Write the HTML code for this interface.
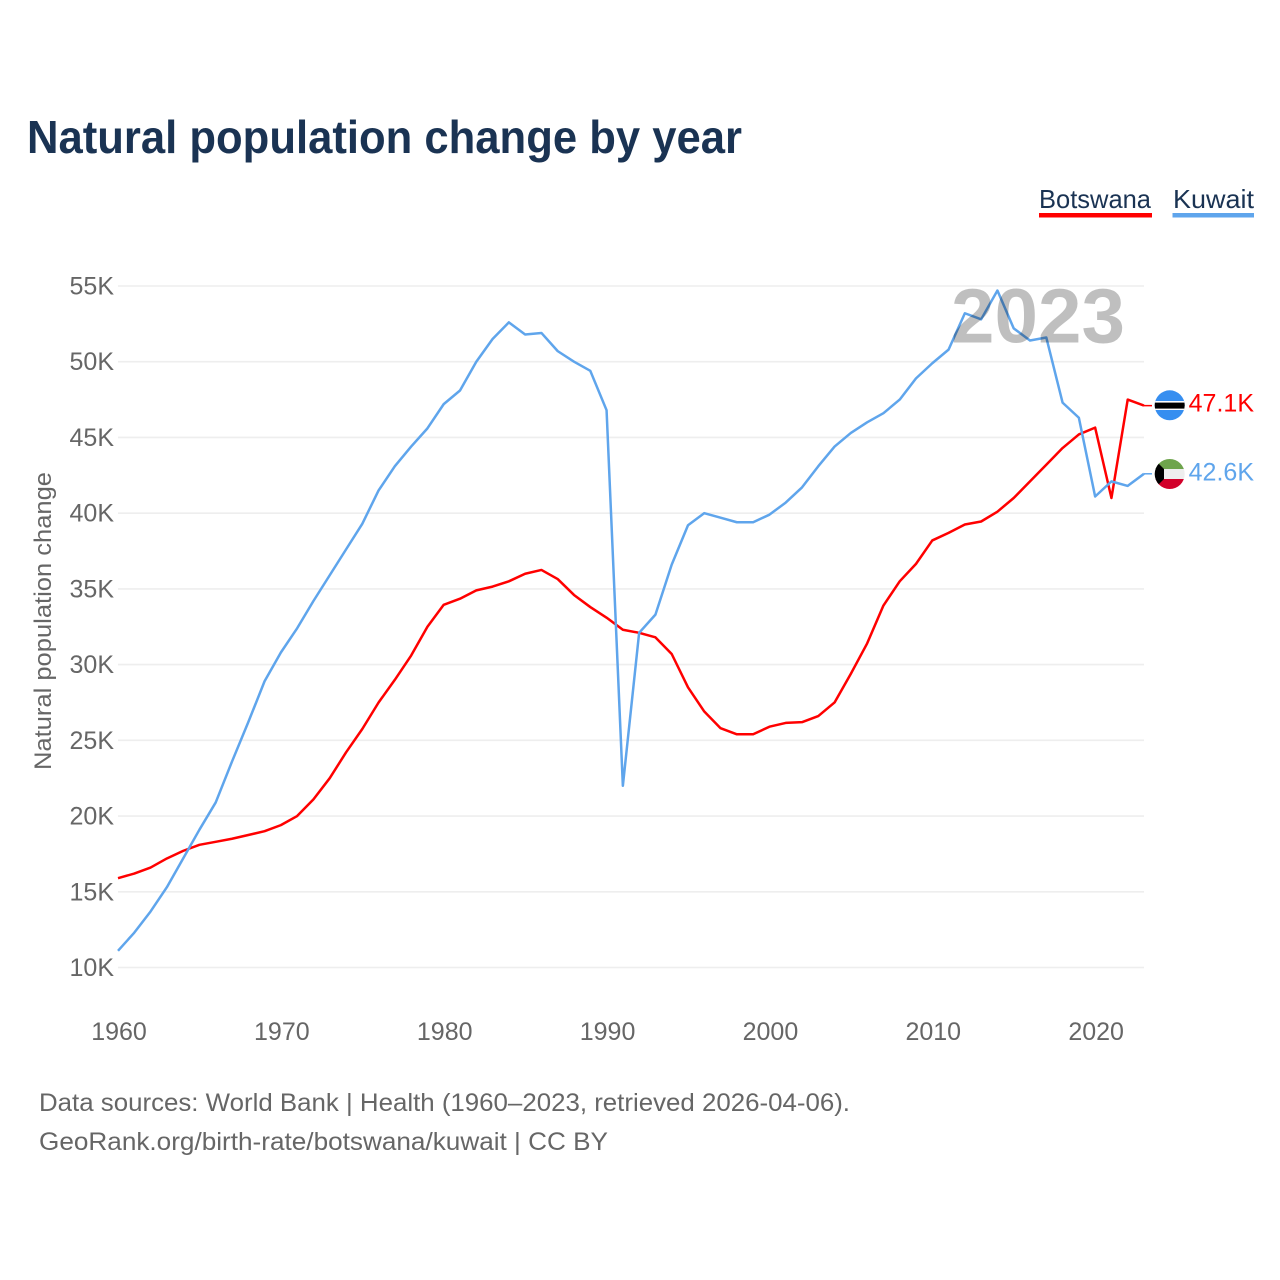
<!DOCTYPE html>
<html lang="en">
<head>
<meta charset="utf-8">
<title>Natural population change by year</title>
<style>
html,body{margin:0;padding:0;background:#fff;}
svg{display:block;font-family:"Liberation Sans",sans-serif;}
</style>
</head>
<body>
<svg id="chart" xmlns="http://www.w3.org/2000/svg" width="1280" height="1280" viewBox="0 0 1280 1280">
  <rect x="0" y="0" width="1280" height="1280" fill="#fff"/>
  <text x="27" y="153" font-size="46" font-weight="700" fill="#1a3353" textLength="715" lengthAdjust="spacingAndGlyphs">Natural population change by year</text>

  <g>
    <text x="1039" y="208" font-size="26" fill="#1a3353" textLength="112" lengthAdjust="spacingAndGlyphs">Botswana</text>
    <rect x="1039" y="213" width="113" height="4.5" fill="#ff0000"/>
  </g>
  <g>
    <text x="1173" y="208" font-size="26" fill="#1a3353" textLength="81" lengthAdjust="spacingAndGlyphs">Kuwait</text>
    <rect x="1172.5" y="213" width="81.5" height="4.5" fill="#5fa5ec"/>
  </g>

  <g id="grid"></g>
  <g id="yticks"></g>
  <g id="xticks"></g>
  <text transform="translate(51,621) rotate(-90)" text-anchor="middle" font-size="24" fill="#666" textLength="298" lengthAdjust="spacingAndGlyphs">Natural population change</text>

  <g id="lines"></g>

  <text id="year-watermark" x="951" y="342.5" font-size="77" font-weight="700" fill="#000" fill-opacity="0.25" textLength="174" lengthAdjust="spacingAndGlyphs">2023</text>

  <g id="end-markers"></g>

  <defs>
    <clipPath id="flag-clip-bw"><circle cx="1169.7" cy="405.3" r="15"/></clipPath>
    <clipPath id="flag-clip-kw"><circle cx="1169.7" cy="474" r="15"/></clipPath>
  </defs>
  <g clip-path="url(#flag-clip-bw)">
    <rect x="1154" y="390" width="31" height="31" fill="#368ef0"/>
    <rect x="1154" y="401" width="31" height="9" fill="#fff"/>
    <rect x="1154" y="402.6" width="31" height="6" fill="#000"/>
  </g>
  <g clip-path="url(#flag-clip-kw)">
    <rect x="1154" y="459" width="31" height="10" fill="#6ea44c"/>
    <rect x="1154" y="469" width="31" height="10" fill="#eee"/>
    <rect x="1154" y="479" width="31" height="10" fill="#d2002a"/>
    <polygon points="1154,459 1164,469 1164,479 1154,489" fill="#000"/>
  </g>
  <text id="label-bw" x="1254" y="411.5" text-anchor="end" font-size="25" fill="#ff0000"></text>
  <text id="label-kw" x="1254" y="480.5" text-anchor="end" font-size="25" fill="#5fa5ec"></text>

  <g>
    <text x="39" y="1111" font-size="25" fill="#666" textLength="811" lengthAdjust="spacingAndGlyphs">Data sources: World Bank | Health (1960–2023, retrieved 2026-04-06).</text>
    <text x="39" y="1150" font-size="25" fill="#666" textLength="569" lengthAdjust="spacingAndGlyphs">GeoRank.org/birth-rate/botswana/kuwait | CC BY</text>
  </g>
</svg>
<script>
const startYear = 1960;
const yTicks = [10, 15, 20, 25, 30, 35, 40, 45, 50, 55];
const xTicks = [1960, 1970, 1980, 1990, 2000, 2010, 2020];
const botswana = [15.9,16.2,16.6,17.2,17.7,18.1,18.3,18.5,18.75,19.0,19.4,20.0,21.1,22.5,24.2,25.75,27.5,29.0,30.6,32.5,33.95,34.35,34.9,35.15,35.5,36.0,36.25,35.65,34.6,33.8,33.1,32.3,32.1,31.8,30.7,28.5,26.9,25.8,25.4,25.4,25.9,26.15,26.2,26.6,27.5,29.4,31.4,33.9,35.5,36.65,38.2,38.7,39.25,39.45,40.1,41.0,42.1,43.2,44.3,45.2,45.65,41.0,47.5,47.1];
const kuwait = [11.1,12.3,13.7,15.3,17.2,19.1,20.9,23.6,26.2,28.9,30.8,32.4,34.2,35.9,37.6,39.3,41.5,43.1,44.4,45.6,47.2,48.1,50.0,51.5,52.6,51.8,51.9,50.7,50.0,49.4,46.8,22.0,32.1,33.3,36.6,39.2,40.0,39.7,39.4,39.4,39.9,40.7,41.7,43.1,44.4,45.3,46.0,46.6,47.5,48.9,49.9,50.8,53.2,52.8,54.7,52.2,51.4,51.6,47.3,46.3,41.1,42.1,41.8,42.6];

const NS = 'http://www.w3.org/2000/svg';
const xScale = function (year) { return 118 + (year - 1960) * (1144 - 118) / 63; };
const yScale = function (value) { return 967.5 - (value - 10) * (967.5 - 286) / 45; };

function make(tag, parent, attrs, text) {
  const el = document.createElementNS(NS, tag);
  Object.keys(attrs).forEach(function (k) { el.setAttribute(k, attrs[k]); });
  if (text !== undefined) el.textContent = text;
  parent.appendChild(el);
  return el;
}

const gridGroup = document.getElementById('grid');
const yGroup = document.getElementById('yticks');
yTicks.forEach(function (t) {
  const y = yScale(t);
  const line = make('line', gridGroup, { x1: 118, x2: 1144, y1: y, y2: y, stroke: '#eeeeee', 'stroke-width': 1.6 });
  
  
  const label = make('text', yGroup, { x: 114, y: y + 8.5, 'text-anchor': 'end', 'font-size': 25, fill: '#666' }, t + 'K');
  
  
});

const xGroup = document.getElementById('xticks');
xTicks.forEach(function (t) {
  const label = make('text', xGroup, { x: xScale(t) + 1, y: 1040, 'text-anchor': 'middle', 'font-size': 25, fill: '#666' }, String(t));
  
  
});

function pathFor(values) {
  return values.map(function (v, i) {
    return (i ? 'L' : 'M') + xScale(startYear + i).toFixed(2) + ' ' + yScale(v).toFixed(2);
  }).join(' ');
}

const lineGroup = document.getElementById('lines');
const botswanaLine = make('path', lineGroup, { d: pathFor(botswana), fill: 'none', stroke: '#ff0000', 'stroke-width': 2.5, 'stroke-linejoin': 'round' });


const kuwaitLine = make('path', lineGroup, { d: pathFor(kuwait), fill: 'none', stroke: '#5fa5ec', 'stroke-width': 2.5, 'stroke-linejoin': 'round' });



const markerGroup = document.getElementById('end-markers');
const lastX = xScale(startYear + botswana.length - 1);
const botswanaLast = botswana[botswana.length - 1];
const kuwaitLast = kuwait[kuwait.length - 1];
const botswanaTick = make('line', markerGroup, { x1: lastX, x2: lastX + 8, y1: yScale(botswanaLast), y2: yScale(botswanaLast), stroke: '#ff0000', 'stroke-width': 1.5 });


const kuwaitTick = make('line', markerGroup, { x1: lastX, x2: lastX + 8, y1: yScale(kuwaitLast), y2: yScale(kuwaitLast), stroke: '#5fa5ec', 'stroke-width': 1.5 });



document.getElementById('label-bw').textContent = botswanaLast.toFixed(1) + 'K';
document.getElementById('label-kw').textContent = kuwaitLast.toFixed(1) + 'K';
</script>
</body>
</html>
